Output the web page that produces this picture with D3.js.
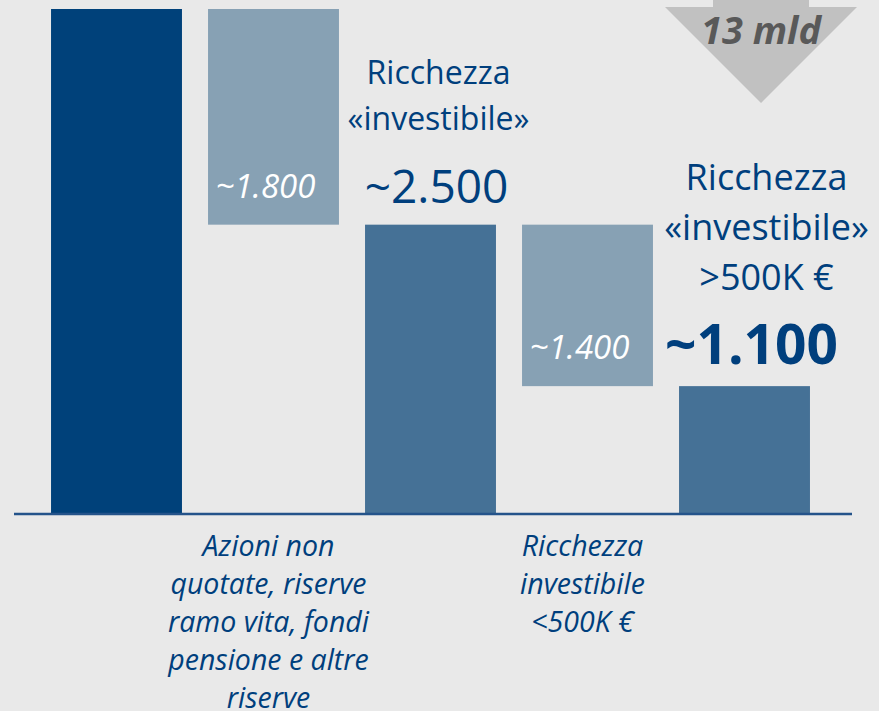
<!DOCTYPE html>
<html>
<head>
<meta charset="utf-8">
<script src="https://cdn.jsdelivr.net/npm/d3@7"></script>
<style>
  html, body { margin: 0; padding: 0; background: #e9e9e9; }
  svg { display: block; }
  text { font-family: "Open Sans", sans-serif; font-variant-ligatures: none; }
</style>
</head>
<body>
<svg id="chart"></svg>
<script>
/* chart data (miliardi di euro) */
var categories = ["totale", "non_investibile", "investibile", "sotto_500k", "sopra_500k"];
var values = [4370, 1870, 2500, 1400, 1100];
var kinds = ["total", "minus", "total", "minus", "total"];
var valueLabels = ["", "~1.800", "~2.500", "~1.400", "~1.100"];
var bottomLabels = [
  [],
  ["Azioni non", "quotate, riserve", "ramo vita, fondi", "pensione e altre", "riserve"],
  [],
  ["Ricchezza", "investibile", "<500K \u20ac"],
  []
];
var titleLabels = [
  [],
  [],
  ["Ricchezza", "\u00abinvestibile\u00bb"],
  [],
  ["Ricchezza", "\u00abinvestibile\u00bb", ">500K \u20ac"]
];
var arrowLabel = "13 mld";

var width = 879, height = 711;
var svg = d3.select("#chart").attr("width", width).attr("height", height);

var blue = "#00417a", mid = "#457196", light = "#87a1b4", textBlue = "#003f7d";

/* waterfall: each "minus" bar hangs from the previous total */
var data = [];
var running = 0;
categories.forEach(function(c, i) {
  var lo, hi;
  if (kinds[i] === "total") { lo = 0; hi = values[i]; running = values[i]; }
  else { hi = running; lo = running - values[i]; running = lo; }
  data.push({cat: c, i: i, lo: lo, hi: hi, kind: kinds[i]});
});

var x = d3.scaleBand()
    .domain(categories)
    .range([38, 823])
    .paddingInner(0.166)
    .paddingOuter(0.083);

var y = d3.scaleLinear()
    .domain([0, 4370])
    .range([513, 9]);

var bw = x.bandwidth();

function fill(d) {
  if (d.i === 0) return blue;
  return d.kind === "minus" ? light : mid;
}

svg.selectAll("rect.bar")
    .data(data)
  .enter().append("rect")
    .attr("class", "bar")
    .attr("x", function(d) { return x(d.cat); })
    .attr("y", function(d) { return y(d.hi); })
    .attr("width", bw)
    .attr("height", function(d) { return y(d.lo) - y(d.hi); })
    .attr("fill", fill);

/* baseline */
svg.append("line")
    .attr("x1", 14).attr("x2", 852)
    .attr("y1", y(0) + 1).attr("y2", y(0) + 1)
    .attr("stroke", "#24538a")
    .attr("stroke-width", 2.5);

/* white italic labels inside the hanging bars */
svg.selectAll("text.inlabel")
    .data(data.filter(function(d) { return d.kind === "minus"; }))
  .enter().append("text")
    .attr("class", "inlabel")
    .attr("x", function(d) { return x(d.cat) + bw / 2 - 8; })
    .attr("y", function(d) { return y(d.lo) - 27; })
    .attr("text-anchor", "middle")
    .attr("fill", "#fff")
    .style("font-style", "italic")
    .style("font-size", "33px")
    .text(function(d) { return valueLabels[d.i]; });

/* titles and big numbers above the totals */
var tops = data.filter(function(d) { return d.kind === "total" && d.i > 0; });

tops.forEach(function(d) {
  var cx = x(d.cat) + bw / 2 + 6;
  var big = d.i === 4;
  svg.append("text")
      .attr("x", cx + (big ? 1 : 0))
      .attr("y", y(d.hi) - 22)
      .attr("text-anchor", "middle")
      .attr("fill", textBlue)
      .style("font-weight", big ? "bold" : "normal")
      .style("font-size", big ? "55px" : "46px")
      .text(valueLabels[d.i]);

  var lines = titleLabels[d.i];
  var step = big ? 50 : 46;
  var last = y(d.hi) - (big ? 96 : 95);
  lines.forEach(function(t, k) {
    svg.append("text")
        .attr("x", cx + (big ? 16 : 2))
        .attr("y", last - (lines.length - 1 - k) * step)
        .attr("text-anchor", "middle")
        .attr("fill", textBlue)
        .style("font-size", big ? "36px" : "32px")
        .text(t);
  });
});

/* italic captions under the axis */
data.forEach(function(d) {
  var lines = bottomLabels[d.i];
  lines.forEach(function(t, k) {
    svg.append("text")
        .attr("x", x(d.cat) + bw / 2 - 5)
        .attr("y", y(0) + 43 + k * 38)
        .attr("text-anchor", "middle")
        .attr("fill", textBlue)
        .style("font-style", "italic")
        .style("font-size", "28.5px")
        .text(t);
  });
});

/* grey arrow with total */
var ax = 761;
svg.append("path")
    .attr("d", "M" + (ax - 48) + ",0 L" + (ax + 48) + ",0 L" + (ax + 48) + ",7 L" + (ax + 96) + ",7 L" +
      ax + ",103 L" + (ax - 96) + ",7 L" + (ax - 48) + ",7 Z")
    .attr("fill", "#c1c1c1");

svg.append("text")
    .attr("x", ax)
    .attr("y", 44)
    .attr("text-anchor", "middle")
    .attr("fill", "#595959")
    .style("font-weight", "bold")
    .style("font-style", "italic")
    .style("font-size", "38px")
    .text(arrowLabel);
</script>
</body>
</html>
